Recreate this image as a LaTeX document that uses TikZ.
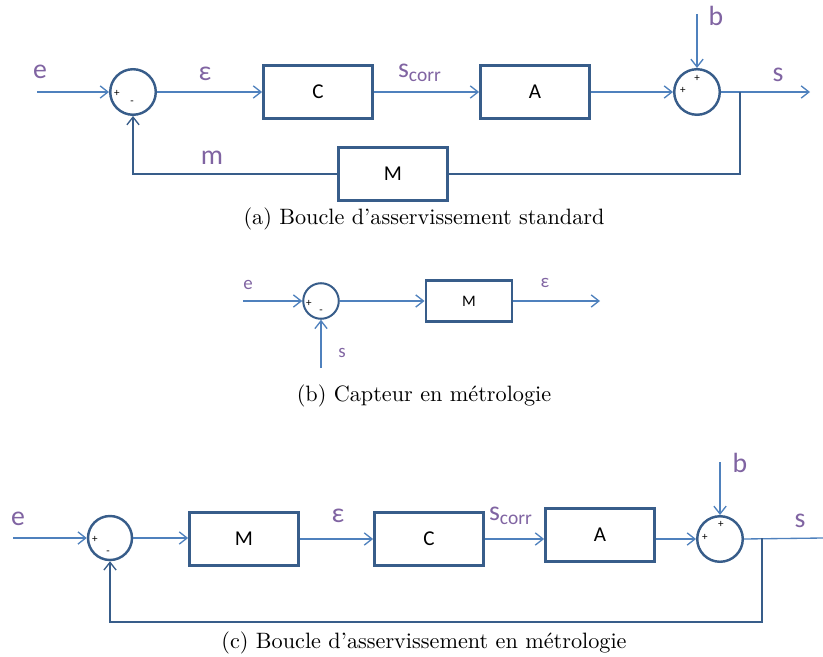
\documentclass[tikz,border=0pt]{standalone}
\usepackage{fontspec}
\newfontfamily\calib{Carlito}
\usetikzlibrary{arrows.meta}
\definecolor{linblue}{HTML}{4F81BD}
\definecolor{boxblue}{HTML}{385D8A}
\definecolor{lblpurple}{HTML}{8064A2}

\begin{document}
\begin{tikzpicture}[x=0.45pt,y=-0.45pt,
  blk/.style={draw=boxblue, line width=1.3pt, minimum width=49pt, minimum height=23.5pt, inner sep=0pt, font=\calib\fontsize{9.5}{11}\selectfont},
  smallblk/.style={blk, line width=1pt, minimum width=39pt, minimum height=18.5pt, font=\calib\fontsize{7.2}{8}\selectfont},
  sum/.style={draw=boxblue, line width=1.1pt, circle, minimum size=20.5pt, inner sep=0pt},
  smallsum/.style={sum, line width=0.9pt, minimum size=16pt},
  sig/.style={linblue, line width=0.6pt},
  fb/.style={boxblue, line width=0.6pt},
  arr/.style={sig, -{Straight Barb[length=3.5pt,width=5.5pt]}},
  lbl/.style={text=lblpurple, font=\calib\fontsize{12.5}{14}\selectfont, inner sep=0pt},
  smalllbl/.style={lbl, font=\calib\fontsize{8.5}{9}\selectfont},
  sgn/.style={font=\calib\fontsize{5}{6}\selectfont, inner sep=0pt},
  captxt/.style={inner sep=0pt}]
\useasboundingbox (0,0) rectangle (823,657);

% (a) boucle standard
\coordinate (ea) at (37,92);
\node at (133,92) [sum] (sa1) {};
\node at (318,92) [blk] (Ca) {C};
\node at (535,92) [blk] (Aa) {A};
\node at (697,92) [sum] (sa2) {};
\node at (393,174) [blk] (Ma) {M};
\coordinate (ba) at (697,14);
\coordinate (sa) at (810,92);
\coordinate (ka) at (740,92);
\node at (117,93) [sgn] {+};
\node at (132,103) [sgn] {-};
\node at (683,90) [sgn] {+};
\node at (697,78) [sgn] {+};
\node at (40,72) [lbl] (le1) {e};
\node at (205,74) [lbl] (leps1) {ε};
\node at (420,73) [lbl] (lsc1) {s\textsubscript{corr}};
\node at (716,16) [lbl] (lb1) {b};
\node at (778,75) [lbl] (ls1) {s};
\node at (212,158) [lbl] (lm1) {m};
\draw[arr] (ea) -- (sa1.west);
\draw[arr] (sa1.east) -- (Ca.west);
\draw[arr] (Ca.east) -- (Aa.west);
\draw[arr] (Aa.east) -- (sa2.west);
\draw[arr] (ba) -- (sa2.north);
\draw[arr] (sa2.east) -- (sa);
\draw[fb] (ka) |- (Ma.east);
\draw[fb, -{Straight Barb[length=3.5pt,width=5.5pt]}] (Ma.west) -| (sa1.south);
\node at (424,219) [captxt] (capa) {(a) Boucle d'asservissement standard};

% (b) capteur
\coordinate (eb) at (243,301);
\node at (321,301) [smallsum] (sb1) {};
\node at (469,301) [smallblk] (Mb) {M};
\coordinate (epsb) at (600,301);
\coordinate (sb) at (321,368);
\node at (309,303) [sgn] {+};
\node at (321,312) [sgn] {-};
\node at (248,285) [smalllbl] (le2) {e};
\node at (545,283) [smalllbl] (leps2) {ε};
\node at (342,353) [smalllbl] (ls2) {s};
\draw[arr] (eb) -- (sb1.west);
\draw[arr] (sb1.east) -- (Mb.west);
\draw[arr] (Mb.east) -- (epsb);
\draw[arr] (sb) -- (sb1.south);
\node at (424,396) [captxt] (capb) {(b) Capteur en métrologie};

% (c) boucle en metrologie
\coordinate (ec) at (13,538);
\node at (110,538) [sum, minimum size=19.8pt] (sc1) {};
\node at (244,539) [blk] (Mc) {M};
\node at (429,539) [blk] (Cc) {C};
\node at (600,535) [blk] (Ac) {A};
\node at (720,539) [sum] (sc2) {};
\coordinate (bc) at (720,462);
\coordinate (sc) at (823,538);
\coordinate (kc) at (762,538);
\coordinate (fc) at (762,622);
\node at (95,539) [sgn] {+};
\node at (108,553) [sgn] {-};
\node at (705,537) [sgn] {+};
\node at (721,524) [sgn] {+};
\node at (18,519) [lbl] (le3) {e};
\node at (338,516) [lbl] (leps3) {ε};
\node at (511,516) [lbl] (lsc3) {s\textsubscript{corr}};
\node at (740,463) [lbl] (lb3) {b};
\node at (800,521) [lbl] (ls3) {s};
\draw[arr] (ec) -- (sc1.west);
\draw[arr] (sc1.east) -- (Mc.west |- sc1.east);
\draw[arr] (Mc.east) -- (Cc.west |- Mc.east);
\draw[arr] (Cc.east) -- (Ac.west |- Cc.east);
\draw[arr] (Ac.east |- sc2.west) -- (sc2.west);
\draw[arr] (bc) -- (sc2.north);
\draw[sig] (sc2.east) -- (sc);
\draw[fb, -{Straight Barb[length=3.5pt,width=5.5pt]}] (kc) -- (fc) -| (sc1.south);
\node at (424,643) [captxt] (capc) {(c) Boucle d'asservissement en métrologie};
\end{tikzpicture}
\end{document}
